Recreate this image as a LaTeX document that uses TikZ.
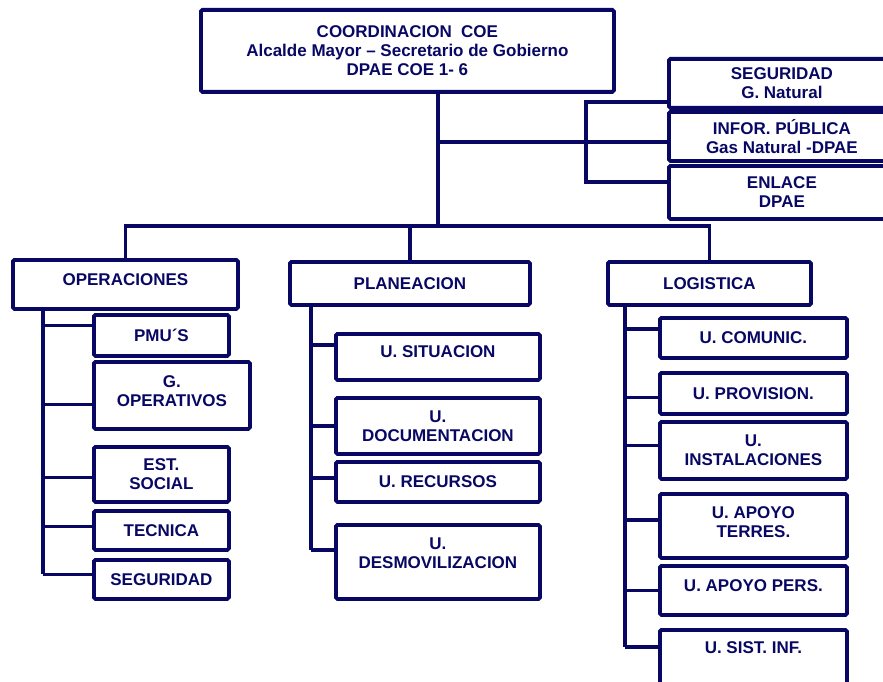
\documentclass[tikz,border=0pt]{standalone}
\usepackage{fontspec}
\setmainfont{Liberation Sans}
\usepackage{xcolor}
\definecolor{coeblue}{RGB}{8,8,100}

\begin{document}
\begin{tikzpicture}[x=1pt,y=-1pt]
\tikzset{
    box style/.style={draw=coeblue, line width=3.8pt, rounded corners=1.5pt, anchor=north west,
      inner sep=0pt, align=center, text=coeblue, font=\bfseries\fontsize{17}{19}\selectfont},
    link style/.style={draw=coeblue, line width=3.8pt}
    %link style/.style={draw=coeblue, line width=3pt, rounded corners},
}
  \useasboundingbox (0,0) rectangle (883,682);
  \clip (0,0) rectangle (883,682);

  % coordinacion
  \node[box style, minimum width=413pt, minimum height=82pt] (coe) at (199,8)
    {COORDINACION\ \ COE\\Alcalde Mayor \textendash{} Secretario de Gobierno\\DPAE COE 1- 6};
  \node[box style, minimum width=226pt, minimum height=49pt, text depth=-4pt] (seg) at (667,57) {SEGURIDAD\\G. Natural};
  \node[box style, minimum width=226pt, minimum height=49pt, text depth=-5pt] (inf) at (667,110) {INFOR. PÚBLICA\\Gas Natural -DPAE};
  \node[box style, minimum width=226pt, minimum height=53pt] (enl) at (667,164) {ENLACE\\DPAE};

  % secciones
  \node[box style, minimum width=225pt, minimum height=49pt, text depth=10pt] (ops) at (11,258) {OPERACIONES};
  \node[box style, minimum width=240pt, minimum height=43pt] (pla) at (288,260) {PLANEACION};
  \node[box style, minimum width=203pt, minimum height=43pt] (log) at (606,260) {LOGISTICA};

  % operaciones
  \node[box style, minimum width=135pt, minimum height=41pt] (pmu) at (92,313) {PMU´S};
  \node[box style, minimum width=156pt, minimum height=67pt, text depth=8pt] (gop) at (92,360) {G.\\OPERATIVOS};
  \node[box style, minimum width=135pt, minimum height=55pt] (est) at (92,445) {EST.\\SOCIAL};
  \node[box style, minimum width=135pt, minimum height=39pt] (tec) at (92,509) {TECNICA};
  \node[box style, minimum width=135pt, minimum height=39pt] (sgd) at (92,558) {SEGURIDAD};

  % planeacion
  \node[box style, minimum width=204pt, minimum height=46pt, text depth=10pt] (sit) at (334,332) {U. SITUACION};
  \node[box style, minimum width=204pt, minimum height=56pt] (doc) at (334,396) {U.\\DOCUMENTACION};
  \node[box style, minimum width=204pt, minimum height=40pt] (rec) at (334,460) {U. RECURSOS};
  \node[box style, minimum width=204pt, minimum height=74pt, text depth=18pt] (des) at (334,523) {U.\\DESMOVILIZACION};

  % logistica
  \node[box style, minimum width=187pt, minimum height=40pt] (com) at (658,316) {U. COMUNIC.};
  \node[box style, minimum width=187pt, minimum height=41pt] (pro) at (658,371) {U. PROVISION.};
  \node[box style, minimum width=187pt, minimum height=57pt] (ins) at (658,420) {U.\\INSTALACIONES};
  \node[box style, minimum width=187pt, minimum height=64pt, text depth=8pt] (ter) at (658,492) {U. APOYO\\TERRES.};
  \node[box style, minimum width=187pt, minimum height=49pt, text depth=10pt] (per) at (658,564) {U. APOYO PERS.};
  \node[box style, minimum width=187pt, minimum height=72pt, text depth=36pt] (sis) at (658,628) {U. SIST. INF.};

  \coordinate (bus) at (438,226);
  \coordinate (side top) at (586,102);
  \coordinate (side mid) at (438,142);
  \coordinate (side bot) at (586,182);
  \coordinate (ops trunk) at (43,0);
  \coordinate (pla trunk) at (311,0);
  \coordinate (log trunk) at (625,0);

  \coordinate (pmu-in) at ([yshift=10pt]pmu.west);
  \coordinate (gop-in) at ([yshift=-9pt]gop.west);
  \coordinate (est-in) at ([yshift=-3pt]est.west);
  \coordinate (tec-in) at ([yshift=4pt]tec.west);
  \coordinate (sgd-in) at ([yshift=5pt]sgd.west);
  \coordinate (sit-in) at ([yshift=12pt]sit.west);
  \coordinate (doc-in) at (doc.west);
  \coordinate (rec-in) at ([yshift=4pt]rec.west);
  \coordinate (des-in) at ([yshift=12pt]des.west);
  \coordinate (com-in) at ([yshift=9pt]com.west);
  \coordinate (pro-in) at ([yshift=-4pt]pro.west);
  \coordinate (ins-in) at ([yshift=5pt]ins.west);
  \coordinate (ter-in) at ([yshift=6pt]ter.west);
  \coordinate (per-in) at (per.west);
  \coordinate (sis-in) at ([yshift=19pt]sis.west);

  % top level
  \draw[link style] (coe.south -| bus) -- (bus);
  \draw[link style] (ops.north) |- (bus) -| (log.north);
  \draw[link style] (pla.north) -- (pla.north |- bus);
  \draw[link style] (side mid) -- (inf.west |- side mid);
  \draw[link style] (seg.west |- side top) -- (side top) -- (side bot) -- (enl.west |- side bot);

  % trunks
  \draw[link style] (ops trunk |- ops.south) -- (ops trunk |- sgd-in);
  \draw[link style] (pla trunk |- pla.south) -- (pla trunk |- des-in);
  \draw[link style] (log trunk |- log.south) -- (log trunk |- sis-in);

  % branches
  \draw[link style] (ops trunk |- pmu-in) -- (pmu-in);
  \draw[link style] (ops trunk |- gop-in) -- (gop-in);
  \draw[link style] (ops trunk |- est-in) -- (est-in);
  \draw[link style] (ops trunk |- tec-in) -- (tec-in);
  \draw[link style] (ops trunk |- sgd-in) -- (sgd-in);
  \draw[link style] (pla trunk |- sit-in) -- (sit-in);
  \draw[link style] (pla trunk |- doc-in) -- (doc-in);
  \draw[link style] (pla trunk |- rec-in) -- (rec-in);
  \draw[link style] (pla trunk |- des-in) -- (des-in);
  \draw[link style] (log trunk |- com-in) -- (com-in);
  \draw[link style] (log trunk |- pro-in) -- (pro-in);
  \draw[link style] (log trunk |- ins-in) -- (ins-in);
  \draw[link style] (log trunk |- ter-in) -- (ter-in);
  \draw[link style] (log trunk |- per-in) -- (per-in);
  \draw[link style] (log trunk |- sis-in) -- (sis-in);
\end{tikzpicture}
\end{document}
